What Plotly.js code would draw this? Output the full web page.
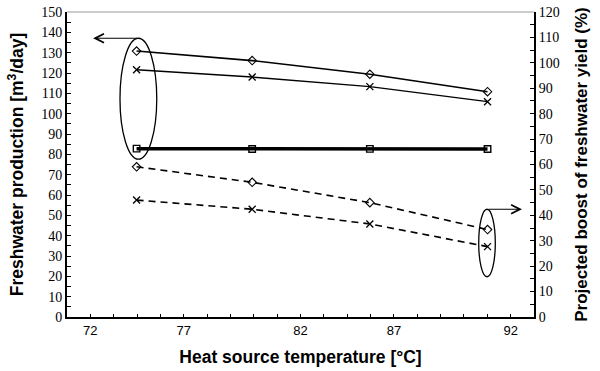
<!DOCTYPE html>
<html>
<head>
<meta charset="utf-8">
<script src="https://cdn.plot.ly/plotly-3.0.1.min.js"></script>
<style>html,body{margin:0;padding:0;background:#fff;}#chart{width:600px;height:371px;}</style>
</head>
<body>
<div id="chart"></div>
<script>
// Heat source temperatures (°C)
const temps = [74.2, 79.7, 85.3, 90.9];
// Left axis: freshwater production [m3/day]
const prodDiamond = [130.8, 126.1, 119.4, 110.8];
const prodCross = [121.6, 118.0, 113.3, 105.9];
const prodSquare = [82.8, 82.6, 82.7, 82.6];
// Right axis: projected boost of freshwater yield (%)
const boostDiamond = [59.1, 53.0, 45.0, 34.4];
const boostCross = [46.0, 42.4, 36.6, 27.7];
// x tick labels and their positions as drawn in the reference
const xTickVals = [72, 76.444, 82, 86.444, 92];
const xTickText = ['72', '77', '82', '87', '92'];

const serif = 'Liberation Serif, Times New Roman, serif';
const sans = 'Liberation Sans, Arial, sans-serif';

const traces = [
  {x: temps, y: prodDiamond, mode: 'lines+markers', yaxis: 'y',
   line: {color: '#000', width: 1.6},
   marker: {symbol: 'diamond-open', size: 6.5, color: '#000', line: {width: 1.1}}},
  {x: temps, y: prodCross, mode: 'lines+markers', yaxis: 'y',
   line: {color: '#000', width: 1.4},
   marker: {symbol: 'x-thin-open', size: 7, color: '#000', line: {width: 1.3}}},
  {x: temps, y: prodSquare, mode: 'lines+markers', yaxis: 'y',
   line: {color: '#000', width: 3.5},
   marker: {symbol: 'square-open', size: 6.5, color: '#000', line: {width: 1.4}}},
  {x: temps, y: boostDiamond, mode: 'lines+markers', yaxis: 'y2',
   line: {color: '#000', width: 1.6, dash: '7px,5px'},
   marker: {symbol: 'diamond-open', size: 6.5, color: '#000', line: {width: 1.1}}},
  {x: temps, y: boostCross, mode: 'lines+markers', yaxis: 'y2',
   line: {color: '#000', width: 1.6, dash: '7px,5px'},
   marker: {symbol: 'x-thin-open', size: 7, color: '#000', line: {width: 1.3}}}
];

const layout = {
  width: 600, height: 371,
  margin: {l: 67, r: 66, t: 12, b: 54},
  paper_bgcolor: '#fff', plot_bgcolor: '#fff',
  showlegend: false,
  xaxis: {
    range: [70.889, 93.111], tickmode: 'array', tickvals: xTickVals, ticktext: xTickText,
    ticks: 'inside', ticklen: 3, tickwidth: 1, tickcolor: '#000',
    minor: {tick0: 70.889, dtick: 1.1111, ticks: 'inside', ticklen: 3, tickcolor: '#000', tickwidth: 1},
    showline: true, linecolor: '#000', linewidth: 2, showgrid: false, zeroline: false,
    tickfont: {family: sans, size: 13, color: '#000'},
    title: {text: 'Heat source temperature [°C]', font: {family: sans, size: 17.5, color: '#000', weight: 'bold'}, standoff: 14}
  },
  yaxis: {
    range: [0, 150], dtick: 10, tick0: 0,
    ticks: 'inside', ticklen: 4, tickwidth: 1, tickcolor: '#000',
    minor: {dtick: 5, ticks: 'inside', ticklen: 4, tickcolor: '#000', tickwidth: 1},
    showline: true, linecolor: '#000', linewidth: 2, showgrid: false, zeroline: false,
    tickfont: {family: serif, size: 14, color: '#000'},
    title: {text: 'Freshwater production [m<sup>3</sup>/day]', font: {family: sans, size: 17.5, color: '#000', weight: 'bold'}, standoff: 13}
  },
  yaxis2: {
    range: [0, 120], dtick: 10, tick0: 0, overlaying: 'y', side: 'right',
    ticks: 'inside', ticklen: 4, tickwidth: 1, tickcolor: '#000',
    minor: {dtick: 5, ticks: 'inside', ticklen: 4, tickcolor: '#000', tickwidth: 1},
    showline: true, linecolor: '#000', linewidth: 2, showgrid: false, zeroline: false,
    tickfont: {family: serif, size: 14, color: '#000'},
    title: {text: 'Projected boost of freshwater yield (%)', font: {family: sans, size: 17, color: '#000', weight: 'bold'}, standoff: 16}
  },
  shapes: [
    {type: 'line', xref: 'paper', yref: 'paper', x0: 0, x1: 1, y0: 1, y1: 1, line: {color: '#999', width: 1}},
    {type: 'circle', xref: 'x', yref: 'y', x0: 73.41, x1: 75.16, y0: 77.6, y1: 137.1, line: {color: '#000', width: 1.3}},
    {type: 'circle', xref: 'x', yref: 'y', x0: 90.48, x1: 91.27, y0: 19.8, y1: 53.0, line: {color: '#000', width: 1.3}}
  ],
  annotations: [
    {x: 72.13, y: 137.1, xref: 'x', yref: 'y', ax: 74.28, ay: 137.1, axref: 'x', ayref: 'y',
     showarrow: true, arrowhead: 5, arrowsize: 1.6, arrowwidth: 1.1, arrowcolor: '#000', text: ''},
    {x: 92.54, y: 53.0, xref: 'x', yref: 'y', ax: 90.87, ay: 53.0, axref: 'x', ayref: 'y',
     showarrow: true, arrowhead: 5, arrowsize: 1.6, arrowwidth: 1.1, arrowcolor: '#000', text: ''}
  ]
};

Plotly.newPlot('chart', traces, layout, {displayModeBar: false, staticPlot: true});
</script>
</body>
</html>
